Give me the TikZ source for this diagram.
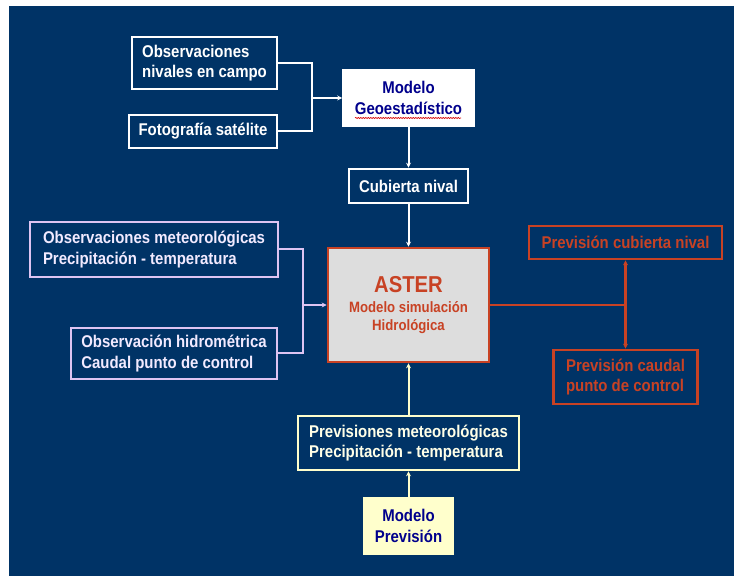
\documentclass[tikz,border=0pt]{standalone}
\usepackage{fontspec}
\setmainfont{Liberation Sans}[FakeStretch=0.88]
\usetikzlibrary{arrows.meta,decorations.pathmorphing}
\definecolor{bg}{RGB}{0,51,102}
\definecolor{lav}{RGB}{222,196,242}
\definecolor{lavtext}{RGB}{242,234,255}
\definecolor{rojo}{RGB}{200,66,36}
\definecolor{cream}{RGB}{255,255,204}
\definecolor{creamtext}{RGB}{255,255,232}
\definecolor{navytext}{RGB}{0,0,140}
\definecolor{astergray}{RGB}{221,221,221}
\begin{document}
\begin{tikzpicture}[x=1pt,y=-1pt,
  boxbase/.style={draw, line width=2.6pt, inner sep=0pt, align=center,
    font=\fontsize{17}{20.5}\selectfont\bfseries},
  wbox/.style={boxbase, draw=white, text=white},
  lbox/.style={boxbase, draw=lav, text=lavtext},
  rbox/.style={boxbase, draw=rojo, text=rojo},
  cbox/.style={boxbase, draw=cream, text=creamtext},
  wline/.style={draw=white, line width=2pt},
  lline/.style={draw=lav, line width=2pt},
  rline/.style={draw=rojo, line width=2.4pt},
  cline/.style={draw=cream, line width=2pt},
  tip/.style={-{Stealth[length=5pt,width=5pt]}}
]
\fill[white] (0,0) rectangle (734,577);
\fill[bg] (9,6) rectangle (734,576);

% top group
\node[wbox, minimum width=145pt, minimum height=52pt, inner xsep=10pt, align=left]
  (obsniv) at (204.5,63) {Observaciones\\nivales en campo};
\node[wbox, minimum width=148pt, minimum height=33pt] (foto) at (203,131.5) {Fotografía satélite};
\node[wbox, fill=white, text=navytext, minimum width=130pt, minimum height=56pt] (geo) at (408.5,98) {Modelo\\Geoestadístico};
\draw[red!85!black, line width=0.6pt, decorate, decoration={snake,amplitude=0.6pt,segment length=2.5pt}]
  (355,118) -- (461,118);
\node[wbox, minimum width=119pt, minimum height=34pt] (cub) at (408.5,186) {Cubierta nival};

% center
\node[boxbase, draw=rojo, fill=astergray, text=rojo, minimum width=161pt, minimum height=114pt,
  font=\fontsize{15}{17.5}\selectfont\bfseries] (aster) at (408.5,305)
  {{\fontsize{23}{23}\selectfont ASTER}\\[3pt]Modelo simulación\\Hidrológica};

% left group
\node[lbox, minimum width=248pt, minimum height=55pt, align=left] (meteo) at (154,249.5)
  {Observaciones meteorológicas\\Precipitación - temperatura};
\node[lbox, minimum width=206pt, minimum height=51pt, align=left] (hidro) at (174,353.5)
  {Observación hidrométrica\\Caudal punto de control};

% right group
\node[rbox, minimum width=193pt, minimum height=33pt] (pcub) at (625.5,242.5) {Previsión cubierta nival};
\node[rbox, minimum width=144pt, minimum height=54pt, align=left] (pcau) at (625.5,377) {Previsión caudal\\punto de control};

% bottom group
\node[cbox, minimum width=221pt, minimum height=54pt, align=left] (pmet) at (408.5,443)
  {Previsiones meteorológicas\\Precipitación - temperatura};
\node[cbox, fill=cream, text=navytext, minimum width=88pt, minimum height=56pt] (mprev) at (408.5,526)
  {Modelo\\Previsión};

% connectors
\coordinate (j1) at (312,98);
\draw[wline] (obsniv.east) -| (j1) |- (foto.east);
\draw[wline, tip] (j1) -- (geo.west);
\draw[wline, tip] (geo.south) -- (cub.north);
\draw[wline, tip] (cub.south) -- (aster.north);

\coordinate (j2) at (303,305);
\draw[lline] (meteo.east) -| (j2) |- (hidro.east);
\draw[lline, tip] (j2) -- (aster.west);

\coordinate (j3) at (pcub.south |- aster.east);
\draw[rline] (aster.east) -- (j3);
\draw[rline, tip] (j3) -- (pcub.south);
\draw[rline, tip] (j3) -- (pcau.north);

\draw[cline, tip] (pmet.north) -- (aster.south);
\draw[cline, tip] (mprev.north) -- (pmet.south);
\end{tikzpicture}
\end{document}
